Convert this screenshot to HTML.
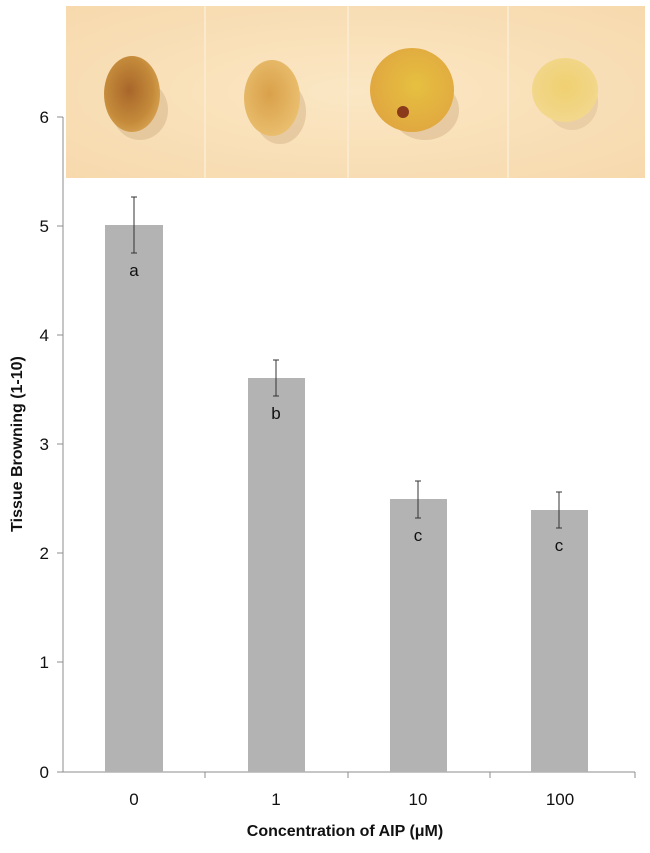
<!DOCTYPE html>
<html><head><style>
body{margin:0;background:#fff;}
svg text{font-family:"Liberation Sans",sans-serif;}
</style></head><body>
<svg width="650" height="848" xmlns="http://www.w3.org/2000/svg">
<defs>
<radialGradient id="bg" cx="50%" cy="50%" r="70%"><stop offset="0" stop-color="#fbe7c4"/><stop offset="1" stop-color="#f7d9ad"/></radialGradient>
<radialGradient id="c1" cx="45%" cy="45%" r="60%"><stop offset="0" stop-color="#a8662a"/><stop offset="0.7" stop-color="#c48a3a"/><stop offset="1" stop-color="#d6a251"/></radialGradient>
<radialGradient id="c2" cx="45%" cy="45%" r="60%"><stop offset="0" stop-color="#d9a04a"/><stop offset="1" stop-color="#eac070"/></radialGradient>
<radialGradient id="c3" cx="55%" cy="45%" r="60%"><stop offset="0" stop-color="#e6c040"/><stop offset="1" stop-color="#e0a640"/></radialGradient>
<radialGradient id="c4" cx="50%" cy="45%" r="60%"><stop offset="0" stop-color="#f0d070"/><stop offset="1" stop-color="#f2d890"/></radialGradient>
</defs>
<rect x="66" y="6" width="579" height="172" fill="url(#bg)"/>
<line x1="205" y1="6" x2="205" y2="178" stroke="#fae9cc" stroke-width="2"/>
<line x1="348" y1="6" x2="348" y2="178" stroke="#fae9cc" stroke-width="2"/>
<line x1="508" y1="6" x2="508" y2="178" stroke="#fae9cc" stroke-width="2"/>
<ellipse cx="140" cy="110" rx="28" ry="30" fill="#d9b98e" opacity="0.6"/>
<ellipse cx="132" cy="94" rx="28" ry="38" fill="url(#c1)"/>
<ellipse cx="280" cy="112" rx="26" ry="32" fill="#dbbb8f" opacity="0.6"/>
<ellipse cx="272" cy="98" rx="28" ry="38" fill="url(#c2)"/>
<ellipse cx="425" cy="110" rx="34" ry="30" fill="#dbbb8f" opacity="0.6"/>
<ellipse cx="412" cy="90" rx="42" ry="42" fill="url(#c3)"/>
<circle cx="403" cy="112" r="6" fill="#8a3a1a"/>
<ellipse cx="572" cy="102" rx="26" ry="28" fill="#dfc39a" opacity="0.6"/>
<ellipse cx="565" cy="90" rx="33" ry="32" fill="url(#c4)"/>
<g stroke="#8c8c8c" stroke-width="1">
<line x1="63" y1="117" x2="63" y2="772"/>
<line x1="63" y1="772" x2="635" y2="772"/>
<line x1="57" y1="117" x2="63" y2="117"/><line x1="57" y1="226" x2="63" y2="226"/>
<line x1="57" y1="335" x2="63" y2="335"/><line x1="57" y1="444" x2="63" y2="444"/>
<line x1="57" y1="553" x2="63" y2="553"/><line x1="57" y1="662" x2="63" y2="662"/>
<line x1="57" y1="772" x2="63" y2="772"/>
<line x1="205" y1="772" x2="205" y2="778"/><line x1="348" y1="772" x2="348" y2="778"/>
<line x1="490" y1="772" x2="490" y2="778"/><line x1="635" y1="772" x2="635" y2="778"/>
</g>
<g fill="#b3b3b3">
<rect x="105" y="225" width="58" height="547"/>
<rect x="248" y="378" width="57" height="394"/>
<rect x="390" y="499" width="57" height="273"/>
<rect x="531" y="510" width="57" height="262"/>
</g>
<g stroke="#333" stroke-width="1">
<line x1="134" y1="197" x2="134" y2="253"/><line x1="131" y1="197" x2="137" y2="197"/><line x1="131" y1="253" x2="137" y2="253"/>
<line x1="276" y1="360" x2="276" y2="396"/><line x1="273" y1="360" x2="279" y2="360"/><line x1="273" y1="396" x2="279" y2="396"/>
<line x1="418" y1="481" x2="418" y2="518"/><line x1="415" y1="481" x2="421" y2="481"/><line x1="415" y1="518" x2="421" y2="518"/>
<line x1="559" y1="492" x2="559" y2="528"/><line x1="556" y1="492" x2="562" y2="492"/><line x1="556" y1="528" x2="562" y2="528"/>
</g>
<g font-size="17" fill="#111" text-anchor="middle">
<text x="134" y="276">a</text><text x="276" y="419">b</text>
<text x="418" y="541">c</text><text x="559" y="551">c</text>
</g>
<g font-size="17" fill="#111" text-anchor="end">
<text x="49" y="123">6</text><text x="49" y="232">5</text><text x="49" y="341">4</text>
<text x="49" y="450">3</text><text x="49" y="559">2</text><text x="49" y="668">1</text><text x="49" y="778">0</text>
</g>
<g font-size="17" fill="#111" text-anchor="middle">
<text x="134" y="805">0</text><text x="276" y="805">1</text><text x="418" y="805">10</text><text x="560" y="805">100</text>
</g>
<text x="345" y="836" font-size="16" font-weight="bold" text-anchor="middle" fill="#111">Concentration of AIP (μM)</text>
<text transform="translate(22,444) rotate(-90)" font-size="16" font-weight="bold" text-anchor="middle" fill="#111">Tissue Browning (1-10)</text>
</svg>
</body></html>
